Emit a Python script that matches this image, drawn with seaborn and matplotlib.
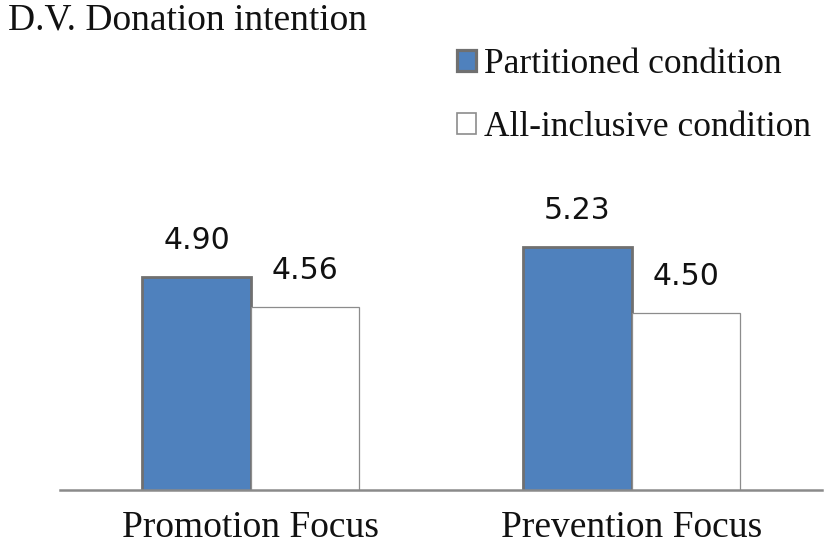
import matplotlib
matplotlib.use("Agg")
import matplotlib.pyplot as plt
import seaborn as sns
import pandas as pd

# Data
focus = ["Promotion Focus", "Prevention Focus"]
conditions = ["Partitioned condition", "All-inclusive condition"]
partitioned = [4.90, 5.23]
all_inclusive = [4.56, 4.50]

df = pd.DataFrame({
    "focus": focus * 2,
    "condition": [conditions[0]] * 2 + [conditions[1]] * 2,
    "intention": partitioned + all_inclusive,
})

sns.set_theme(style="white")
plt.rcParams["font.family"] = ["Liberation Serif", "DejaVu Serif"]

fig = plt.figure(figsize=(8.27, 5.47), dpi=100)
ax = fig.add_axes([60 / 827, 1 - 490 / 547, 762 / 827, 330 / 547])

sns.barplot(data=df, x="focus", y="intention", hue="condition",
            order=focus, hue_order=conditions,
            palette=["#4f81bd", "white"], saturation=1,
            width=0.567, errorbar=None, ax=ax)

# bar outlines
edge_styles = [("#707070", 2.0), ("#8c8c8c", 0.9)]
for c, (ec, lw) in zip(ax.containers, edge_styles):
    for p in c:
        p.set_edgecolor(ec)
        p.set_linewidth(lw)

for c in ax.containers:
    ax.bar_label(c, fmt="%.2f", padding=16, fontsize=21.5,
                 family="DejaVu Sans", color="#111111")

ax.set_xlim(-0.5, 1.5)
ax.set_ylim(2.53, 6.2)
ax.set_yticks([])
ax.set_xlabel("")
ax.set_ylabel("")
for s in ["left", "top", "right"]:
    ax.spines[s].set_visible(False)
ax.spines["bottom"].set_color("#8a8a8a")
ax.spines["bottom"].set_linewidth(1.8)
ax.tick_params(axis="x", length=0, pad=15, labelsize=27, labelcolor="#111111")

# legend
handles, labels = ax.get_legend_handles_labels()
for h, (ec, lw) in zip(handles, edge_styles):
    h.set_edgecolor(ec)
    h.set_linewidth(lw + 0.3)
ax.legend(handles, labels, loc="upper left",
          bbox_to_anchor=(457 / 827, 1 - 48 / 547), bbox_transform=fig.transFigure,
          frameon=False, fontsize=25.5, handlelength=0.55, handleheight=0.55,
          handletextpad=0.2, labelspacing=0.85, borderpad=0, borderaxespad=0,
          labelcolor="#111111")

fig.text(8 / 827, 1 - 29 / 547, "D.V. Donation intention", fontsize=27,
         ha="left", va="baseline", color="#111111")

fig.savefig("out.png", dpi=100)
